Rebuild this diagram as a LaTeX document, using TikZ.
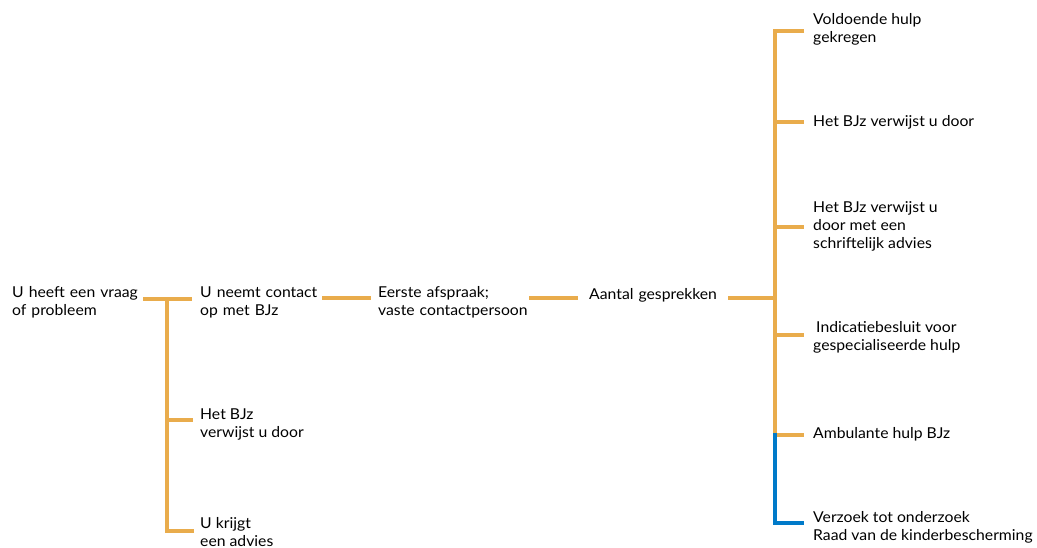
\documentclass[tikz,border=0pt]{standalone}
\usepackage{fontspec}
\setmainfont{Lato}[FakeStretch=1.05]
\definecolor{lineorange}{RGB}{233,172,76}
\definecolor{lineblue}{RGB}{0,122,201}
\tikzset{
  conn/.style={draw=lineorange, line width=4pt},
  bconn/.style={draw=lineblue, line width=4pt},
  lbl/.style={anchor=base west, inner sep=0pt, align=left, font=\fontsize{15}{18}\selectfont, text=black}
}
\begin{document}
\begin{tikzpicture}[x=1pt,y=-1pt]
\useasboundingbox (0,0) rectangle (1037,548);
% left column
\node[lbl, text width=131pt] (n1) at (12,298) {U heeft een vraag\\of probleem};
\node[lbl, text width=122pt] (n2) at (200,298) {U neemt contact\\op met BJz};
\node[lbl] (n3) at (200,437) {Het BJz\\verwijst u door};
\node[lbl] (n4) at (200,546) {U krijgt\\een advies};
\node[lbl, text width=151pt] (n5) at (378,298) {Eerste afspraak;\\vaste contactpersoon};
\node[lbl, text width=139pt] (n6) at (589,300) {Aantal gesprekken};
% right column
\node[lbl] (r1) at (813,43) {Voldoende hulp\\gekregen};
\node[lbl] (r2) at (813,127) {Het BJz verwijst u door};
\node[lbl] (r3) at (813,249) {Het BJz verwijst u\\door met een\\schriftelijk advies};
\node[lbl] (r4) at (813,351) {\hspace{3pt}Indicatiebesluit voor\\gespecialiseerde hulp};
\node[lbl] (r5) at (813,438) {Ambulante hulp BJz};
\node[lbl] (r6) at (813,540) {Verzoek tot onderzoek\\Raad van de kinderbescherming};
% junctions
\coordinate (ja) at (167,299);
\coordinate (la3) at (167,420);
\coordinate (la4) at (167,531);
\coordinate (jb) at (775,298);
\coordinate (b1) at (775,31);
\coordinate (b2) at (775,122);
\coordinate (b3) at (775,227);
\coordinate (b4) at (775,335);
\coordinate (b5) at (775,435);
\coordinate (b6) at (775,523);
% left connectors
\draw[conn] (n1.east |- ja) -- ([xshift=-8pt]n2.west |- ja);
\draw[conn] (ja) |- ([xshift=-6pt]n4.west |- la4);
\draw[conn] (la3) -- ([xshift=-7pt]n3.west |- la3);
\draw[conn] (n2.east |- jb) -- ([xshift=-7pt]n5.west |- jb);
\draw[conn] (n5.east |- jb) -- ([xshift=-11pt]n6.west |- jb);
\draw[conn] (n6.east |- jb) -- (jb);
% right connectors
\draw[conn] ([xshift=-9pt]r1.west |- b1) -| (b5) -- ([xshift=-9pt]r5.west |- b5);
\draw[conn] (b2) -- ([xshift=-9pt]r2.west |- b2);
\draw[conn] (b3) -- ([xshift=-9pt]r3.west |- b3);
\draw[conn] (b4) -- ([xshift=-9pt]r4.west |- b4);
\draw[bconn] ([yshift=2pt]b5) |- ([xshift=-9pt]r6.west |- b6);
\end{tikzpicture}
\end{document}
